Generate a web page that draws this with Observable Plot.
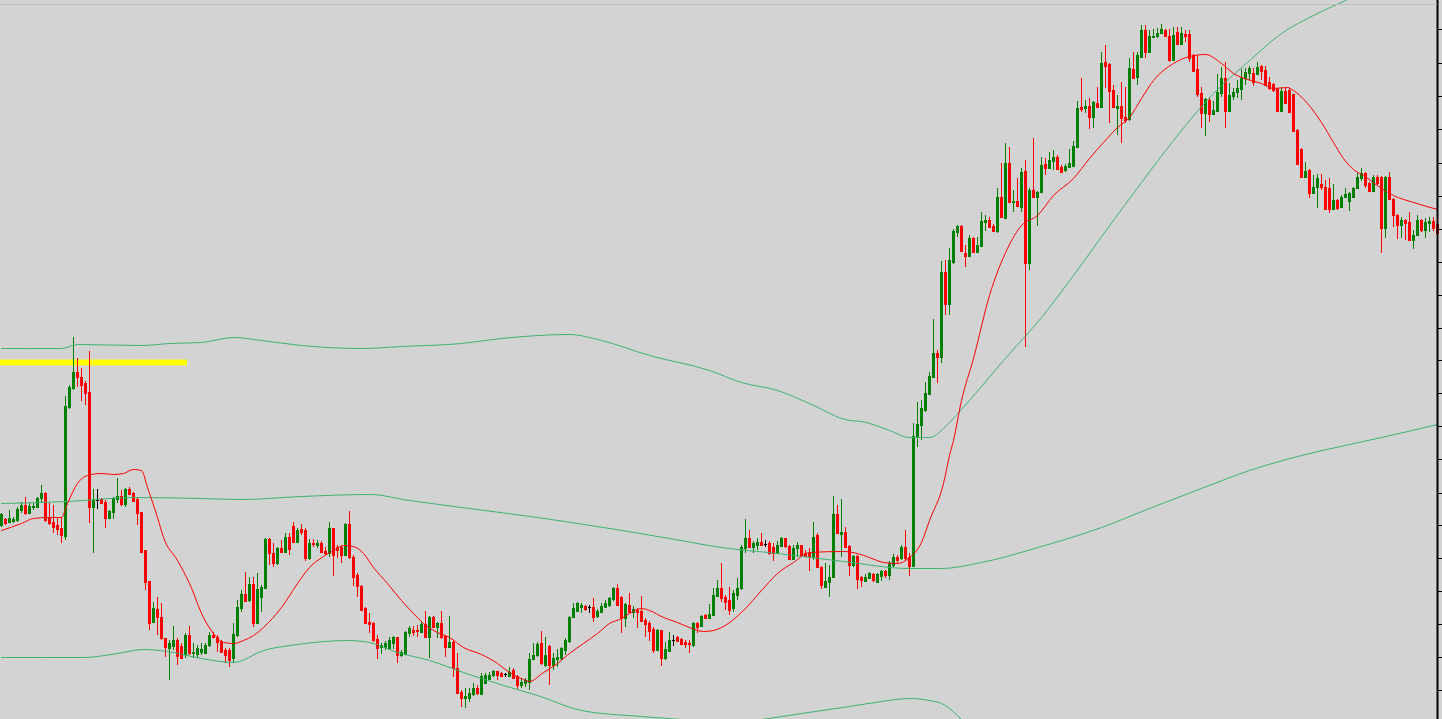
<!DOCTYPE html>
<html><head><meta charset="utf-8">
<script src="https://cdn.jsdelivr.net/npm/d3@7"></script>
<script src="https://cdn.jsdelivr.net/npm/@observablehq/plot@0.6"></script>
<style>
html,body{margin:0;padding:0;background:#d3d3d3;overflow:hidden}
#wrap{position:relative;width:1442px;height:719px}
#topline{position:absolute;left:0;top:4px;width:1437px;height:1px;background:#bcbcbc}
</style></head>
<body><div id="wrap"><div id="chart"></div><div id="topline"></div></div>
<script>
// Price units (unlabelled axis)
const open = [
475,481,478,479,480,490,495,487,493,493,
502,507,482,478,475,472,464,593,612,628,
623,617,608,493,500,501,498,482,488,501,
504,496,511,507,501,488,450,419,378,391,
383,362,352,354,360,354,346,365,347,346,
348,347,355,365,363,359,350,350,342,365,
392,406,400,416,377,403,412,461,447,437,
452,448,463,474,458,471,470,442,457,455,
457,449,447,472,453,453,445,476,443,425,
414,392,378,377,361,353,353,352,357,363,
345,346,367,370,370,368,376,363,383,373,
377,364,353,358,332,308,302,302,306,312,
306,317,321,325,329,327,326,324,330,324,
315,317,318,341,345,357,335,354,335,341,
342,350,359,383,389,393,394,393,393,384,
388,393,395,401,412,403,382,395,388,390,
389,380,377,371,350,370,342,349,360,363,
361,358,357,355,377,374,385,382,385,404,
412,403,400,392,405,412,452,462,453,455,
458,456,457,453,447,454,462,454,441,452,
455,447,447,443,465,433,413,418,423,486,
466,468,454,435,444,423,419,422,426,418,
424,429,425,435,443,442,453,443,434,563,
575,590,606,623,647,643,728,696,738,768,
774,747,744,762,748,754,778,780,774,769,
803,782,837,798,799,793,829,737,810,803,
808,836,832,839,843,833,830,833,834,853,
893,892,894,883,897,893,938,936,910,892,
894,883,881,931,923,943,970,948,963,964,
967,970,964,940,968,956,966,966,945,931,
907,887,900,886,889,907,922,889,904,908,
911,922,927,927,926,934,930,918,916,911,
889,909,910,906,870,851,823,830,807,813,
816,813,812,791,800,793,803,799,803,812,
822,827,817,809,823,823,772,823,801,785,
775,780,778,760,765,780,770,777,779,776];
const high = [
487,482,490,483,493,498,503,497,497,503,
515,508,497,495,483,483,604,615,663,642,
632,619,649,511,511,502,500,490,503,522,
510,512,513,508,503,488,450,419,398,403,
397,362,360,374,362,357,367,374,357,355,
357,357,368,368,365,360,352,352,377,400,
410,428,423,423,427,415,462,462,457,453,
460,467,467,478,472,476,472,461,461,460,
459,453,478,472,455,454,477,489,445,427,
415,393,387,378,365,357,359,363,364,363,
350,369,374,374,375,378,389,384,384,378,
389,365,384,360,347,310,312,312,317,315,
327,327,328,330,329,328,327,333,332,325,
322,322,347,357,358,369,363,355,347,351,
353,362,384,397,398,397,395,395,402,391,
397,400,403,413,416,404,397,407,394,392,
404,382,379,373,371,370,358,368,365,364,
362,360,360,378,378,385,386,396,412,420,
437,405,413,410,422,455,481,470,459,462,
467,460,459,457,459,463,462,455,455,458,
455,450,452,478,467,434,437,435,504,495,
501,473,455,445,445,424,426,428,427,427,
430,430,439,446,445,455,470,447,577,598,
600,618,628,681,650,739,740,752,771,775,
775,755,765,763,763,788,785,783,776,812,
837,857,853,810,822,832,840,812,862,809,
843,842,848,850,845,835,836,851,859,899,
922,900,902,899,913,948,955,937,915,905,
918,913,942,948,948,975,975,970,971,972,
976,971,971,973,973,973,970,970,946,945,
913,902,902,899,926,933,938,917,912,920,
931,932,934,932,938,935,934,923,917,912,
913,912,912,906,871,852,838,831,825,826,
826,820,822,816,801,805,812,808,813,827,
832,828,818,825,825,824,824,828,802,786,
783,781,788,770,785,781,782,783,783,779];
const low = [
473,475,477,477,478,487,485,486,490,492,
497,478,475,467,465,457,460,591,610,613,
599,595,477,447,491,496,472,481,481,497,
494,493,505,498,475,448,410,370,377,365,
360,343,320,350,335,341,342,345,342,342,
345,346,353,362,348,347,337,333,337,363,
388,398,398,373,377,388,411,435,433,435,
447,447,445,457,457,465,439,440,453,452,
447,445,443,424,442,437,444,441,414,403,
389,376,367,358,341,346,350,350,351,337,
343,345,363,364,363,367,362,342,372,362,
361,343,352,323,306,293,292,298,304,305,
305,316,320,323,320,323,323,323,321,311,
312,313,310,340,343,335,333,315,330,333,
340,345,357,382,388,387,389,387,378,382,
387,392,393,399,395,367,373,387,382,372,
378,363,359,347,349,334,340,348,354,358,
355,352,347,353,367,373,381,381,384,403,
398,390,385,388,400,410,447,452,447,450,
454,453,445,439,446,453,452,440,440,443,
443,443,429,440,432,411,412,403,422,466,
443,452,424,433,411,413,418,421,418,417,
419,422,420,433,437,440,440,424,433,553,
560,588,605,622,617,637,685,685,736,763,
748,733,743,747,747,753,769,772,768,767,
782,781,797,788,793,788,653,730,802,774,
807,825,831,830,830,828,828,832,833,852,
888,887,871,872,892,892,912,877,892,865,
857,877,879,922,915,942,942,947,962,962,
966,963,938,939,955,955,958,938,928,903,
872,864,878,885,888,903,872,888,900,902,
900,915,920,914,925,920,914,910,908,888,
888,896,887,868,835,822,822,802,806,792,
810,790,787,790,790,792,802,789,802,811,
819,812,808,808,815,747,762,800,773,761,
762,760,759,751,764,768,762,768,769,766];
const close = [
486,477,482,481,491,495,487,494,494,502,
507,480,477,473,471,465,594,613,628,623,
615,607,493,500,500,497,482,489,502,504,
496,511,506,499,487,448,418,377,392,383,
362,353,357,360,344,342,365,347,348,352,
351,355,365,363,358,348,345,340,366,393,
406,399,416,377,411,413,461,447,437,452,
448,463,451,458,470,468,442,457,456,457,
448,447,472,445,450,445,476,443,423,414,
390,377,376,360,352,355,357,360,363,345,
348,368,372,368,369,376,363,383,373,377,
363,353,358,332,307,302,304,307,312,307,
324,325,325,329,325,324,326,328,322,315,
318,320,341,345,356,337,345,335,342,343,
352,360,383,392,397,395,391,393,383,389,
394,397,402,412,395,382,396,388,391,388,
379,376,369,350,370,342,351,360,360,359,
356,356,356,377,373,384,382,386,405,412,
402,398,390,407,412,453,462,453,457,458,
455,456,447,447,455,462,454,441,452,455,
445,444,444,463,433,415,419,423,486,467,
468,453,435,444,421,420,423,427,420,426,
429,425,437,443,440,453,442,434,564,576,
592,607,624,647,643,728,696,740,769,774,
749,744,762,748,755,779,780,773,769,803,
783,837,798,799,794,828,737,810,803,808,
835,832,840,843,831,828,834,837,854,892,
891,894,883,898,893,937,934,909,893,894,
882,880,932,922,945,970,948,964,964,967,
971,964,940,965,956,967,964,942,929,906,
887,901,886,890,908,922,889,905,908,912,
922,928,932,918,933,929,915,912,910,889,
909,897,888,869,836,823,829,807,813,822,
813,791,791,800,792,803,806,807,812,823,
827,815,809,823,817,772,823,801,785,775,
780,777,760,765,780,770,778,779,772,767];

// Red moving average (bar index, price)
const maIdx = [0,5,8,12,15,16.5,19,21.5,25,28,30.5,33,35,36.5,39,40.5,44,47,50.5,53,55.5,58,60.5,63,65.5,70,74,77,80.5,83,85.5,88,90.5,93,96.5,100,103,105.5,109,112,115.5,120,124,127,130.5,132,135.5,139,142,145.5,149,152,155,157,160,162,165.5,169,172,175.5,178,180,185.5,190,194,198,202,210.5,214,217,220.5,224,227,230,232,235.5,237,238,240,243,247,251.5,255,259,263,268,272,275.5,279,282,285,288,293,297,301,305,308,311.5,315,318,321.5,323,326.5,330,333,335.5,338,340.5,345,348,353,359];
const maVal = [470,477,482,483,483,497,517,525,527,526,527,531,530,513,483,463,440,417,383,367,358,357,360,365,373,393,417,433,444,450,455,454,447,433,417,400,387,377,368,363,353,346,337,328,321,319,328,337,347,357,367,377,382,387,392,390,383,378,373,369,370,373,390,410,427,438,448,449,447,443,438,437,443,458,480,517,545,560,600,642,705,752,775,785,805,822,842,858,873,883,902,920,937,944,946,937,927,921,917,912,913,910,897,878,858,842,831,825,812,805,798,791];

// Green bands (bar index, price)
const upperIdx = [0,15,19,35,42,50,58,65,75,90,100,115,125,142,150,162,177,185,194,202,212,215,222,227,232,235.5,237,243.5,250.5,260,268,276.5,285,293,296,303,311.5,320,328,336,347];
const upperVal = [652,652,656,655,657,658,663,660,655,652,654,657,662,666,660,645,630,618,610,597,580,579,570,563,563,572,578,607,640,683,725,772,818,860,875,907,938,967,985,1000,1020];
const midIdx = [0,16.5,33,50,60,75,92,102,117,134,150.5,167,180,194,210.5,227,235,245,260,275,287,300,312,325,337,345,359];
const midVal = [497,499,503,502,501,504,506,500,492,483,473,462,453,447,439,432,432,438,454,473,492,512,530,545,556,563,576];
const lowerIdx = [0,20.5,29,35.5,41.5,50,58,65.5,74,86.5,92,99,107,115.5,120,125.5,134,145,160,170,180,190,200,212,220,227,232,236,240,244];
const lowerVal = [343,343,347,351,349,342,338,350,356,360,358,348,340,328,322,315,305,290,284,281,277,281,287,294,299,302,300,295,281,265];

// Yellow horizontal level
const yellowLevel = 638, yellowStart = -0.25, yellowEnd = 46.5;
// Right-axis tick values (no labels)
const yTicks = [971,937,904,871,837,804,771,738,705,672,640,607,574,541,507,475,442,409,376,343,310];

const candles = open.map((o, i) => ({i, open: o, high: high[i], low: low[i], close: close[i]}));
const up = candles.filter(d => d.close > d.open);
const down = candles.filter(d => d.close < d.open);
const doji = candles.filter(d => d.close === d.open);
const pts = (xs, ys) => xs.map((x, k) => ({x, y: ys[k]}));

function candleMarks(data, color) {
  return [
    Plot.ruleX(data, {x: "i", y1: "low", y2: "high", stroke: color, strokeWidth: 1, shapeRendering: "crispEdges"}),
    Plot.ruleX(data, {x: "i", y1: "open", y2: "close", stroke: color, strokeWidth: 3, shapeRendering: "crispEdges"}),
    Plot.ruleY(data, {y: "open", x1: d => d.i - 0.375, x2: d => d.i + 0.375, stroke: color, shapeRendering: "crispEdges"}),
    Plot.ruleY(data, {y: "close", x1: d => d.i - 0.375, x2: d => d.i + 0.375, stroke: color, shapeRendering: "crispEdges"})
  ];
}

const BAND = "#3cb371";
const chart = Plot.plot({
  width: 1442, height: 719,
  marginTop: 0, marginBottom: 0, marginLeft: 1, marginRight: 5,
  x: {domain: [0, 359], axis: null},
  y: {domain: [281, 1000], axis: null},
  style: {background: "#d3d3d3", overflow: "hidden"},
  marks: [
    Plot.ruleY([yellowLevel], {x1: yellowStart, x2: yellowEnd, stroke: "#ffff00", strokeWidth: 6}),
    ...candleMarks(up, "#008000"),
    ...candleMarks(down, "#ff0000"),
    ...candleMarks(doji, "#000000"),
    Plot.line(pts(upperIdx, upperVal), {x: "x", y: "y", stroke: BAND, strokeWidth: 1, curve: "monotone-x", clip: true}),
    Plot.line(pts(midIdx, midVal), {x: "x", y: "y", stroke: BAND, strokeWidth: 1, curve: "monotone-x", clip: true}),
    Plot.line(pts(lowerIdx, lowerVal), {x: "x", y: "y", stroke: BAND, strokeWidth: 1, curve: "monotone-x", clip: true}),
    Plot.line(pts(maIdx, maVal), {x: "x", y: "y", stroke: "#ff0000", strokeWidth: 1, curve: "monotone-x", clip: true}),
    Plot.frame({anchor: "right", stroke: "#000000", strokeWidth: 2}),
    Plot.axisY(yTicks, {anchor: "right", tickSize: 4, tickFormat: () => "", label: null, stroke: "#000000"})
  ]
});
document.getElementById("chart").appendChild(chart);
</script>
</body></html>
